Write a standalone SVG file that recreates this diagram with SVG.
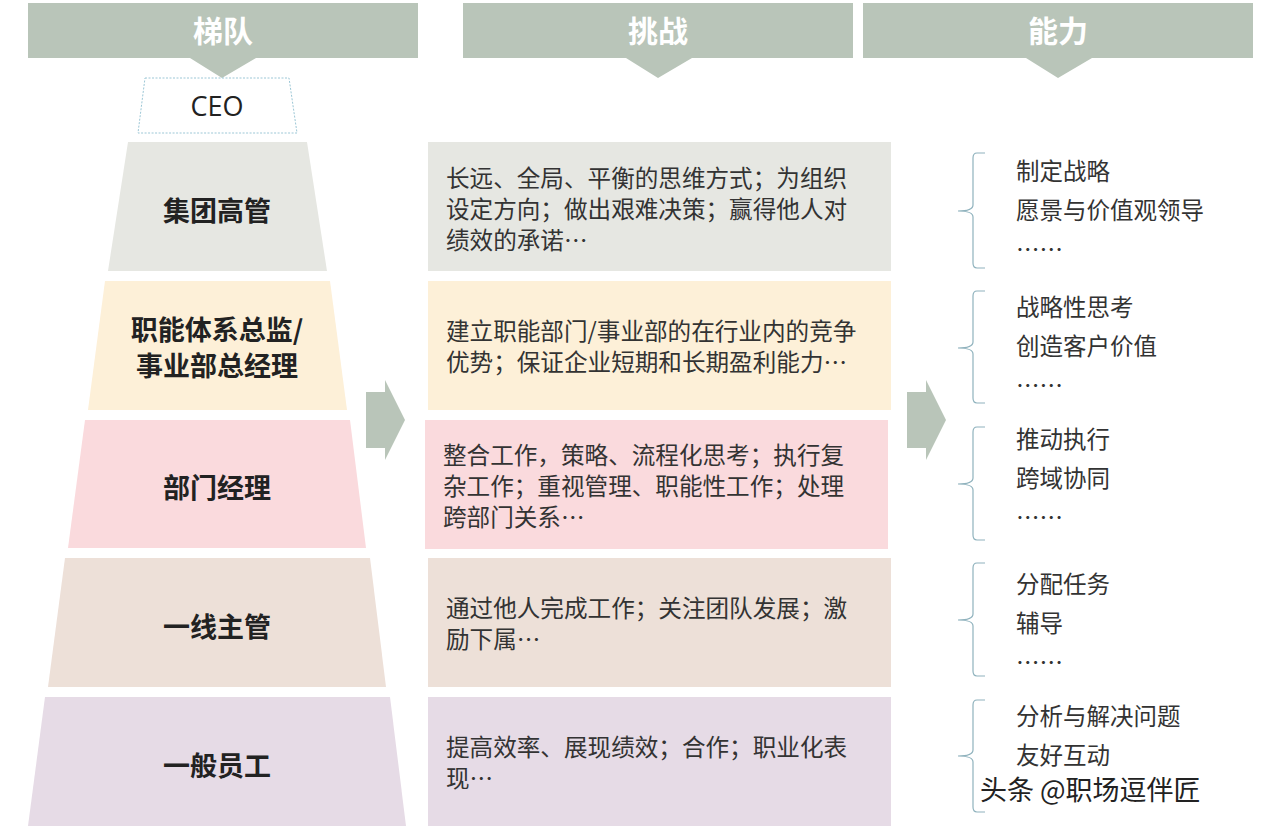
<svg xmlns="http://www.w3.org/2000/svg" width="1269" height="829" viewBox="0 0 1269 829">
<style>
.hd{fill:#b9c5b9}
.ht{font-family:"Noto Sans CJK SC",sans-serif;font-weight:bold;font-size:30px;fill:#fff;text-anchor:middle}
.tl{font-family:"Noto Sans CJK SC",sans-serif;font-weight:bold;font-size:27px;fill:#222;text-anchor:middle}
.ct{font-family:"Noto Sans CJK SC",sans-serif;font-size:23.6px;fill:#333}
.ab{font-family:"Noto Sans CJK SC",sans-serif;font-size:23.5px;fill:#333}
.br{fill:none;stroke:#8fb2bd;stroke-width:1.2}
</style>
<rect width="1269" height="829" fill="#fff"/>
<g id="headers">
<path class="hd" d="M28 3H418V58H256L222 78L190 58H28Z"/>
<text class="ht" x="223" y="42">梯队</text>
<path class="hd" d="M463 3H853V58H692L658 78L626 58H463Z"/>
<text class="ht" x="658" y="42">挑战</text>
<path class="hd" d="M863 3H1253V58H1092L1058 78L1026 58H863Z"/>
<text class="ht" x="1058" y="42">能力</text>
</g>
<g id="ceo">
<path d="M145 78H289L297 133H138Z" fill="#fff" stroke="#9cc7d6" stroke-dasharray="2,1.5"/>
<text x="217" y="116" font-family="Open Sans,sans-serif" font-size="27" fill="#222" text-anchor="middle">CEO</text>
</g>
<g id="tier1"><path d="M128 142H307L327 271H108Z" fill="#e6e7e2"/><text class="tl" x="217" y="221">集团高管</text></g>
<g id="tier2"><path d="M105 281H330L347 410H88Z" fill="#fdf0d8"/><text class="tl" x="217" y="340">职能体系总监/</text><text class="tl" x="217" y="376">事业部总经理</text></g>
<g id="tier3"><path d="M85 420H350L366 548H68Z" fill="#fadadd"/><text class="tl" x="217" y="498">部门经理</text></g>
<g id="tier4"><path d="M65 558H370L386 687H48Z" fill="#ede0d8"/><text class="tl" x="217" y="637">一线主管</text></g>
<g id="tier5"><path d="M45 697H390L406 826H28Z" fill="#e6dbe6"/><text class="tl" x="217" y="776">一般员工</text></g>
<g id="ch1"><rect x="428" y="142" width="463" height="129" fill="#e6e7e2"/>
<text class="ct"><tspan x="446" y="187">长远、全局、平衡的思维方式；为组织</tspan><tspan x="446" y="218">设定方向；做出艰难决策；赢得他人对</tspan><tspan x="446" y="249">绩效的承诺…</tspan></text></g>
<g id="ch2"><rect x="428" y="281" width="463" height="129" fill="#fdf0d8"/>
<text class="ct"><tspan x="446" y="340">建立职能部门/事业部的在行业内的竞争</tspan><tspan x="446" y="371">优势；保证企业短期和长期盈利能力…</tspan></text></g>
<g id="ch3"><rect x="425" y="420" width="463" height="129" fill="#fadadd"/>
<text class="ct"><tspan x="443" y="464">整合工作，策略、流程化思考；执行复</tspan><tspan x="443" y="495">杂工作；重视管理、职能性工作；处理</tspan><tspan x="443" y="526">跨部门关系…</tspan></text></g>
<g id="ch4"><rect x="428" y="558" width="463" height="129" fill="#ede0d8"/>
<text class="ct"><tspan x="446" y="617">通过他人完成工作；关注团队发展；激</tspan><tspan x="446" y="648">励下属…</tspan></text></g>
<g id="ch5"><rect x="428" y="697" width="463" height="129" fill="#e6dbe6"/>
<text class="ct"><tspan x="446" y="756">提高效率、展现绩效；合作；职业化表</tspan><tspan x="446" y="787">现…</tspan></text></g>
<g id="connectors">
<path class="hd" d="M366 392H385V380L405 420L385 460V448H366Z"/>
<path class="hd" d="M907 392H926V380L946 420L926 460V448H907Z"/>
<path class="br" d="M985 153H977Q973 153 973 158V205Q973 211 958 211Q973 211 973 217V263Q973 268 977 268H985"/>
<path class="br" d="M985 291H977Q973 291 973 296V342Q973 348 958 348Q973 348 973 354V398Q973 403 977 403H985"/>
<path class="br" d="M985 427H977Q973 427 973 432V478Q973 484 958 484Q973 484 973 490V535Q973 540 977 540H985"/>
<path class="br" d="M985 563H977Q973 563 973 568V614Q973 620 958 620Q973 620 973 626V671Q973 676 977 676H985"/>
<path class="br" d="M985 700H977Q973 700 973 705V750Q973 756 958 756Q973 756 973 762V807Q973 812 977 812H985"/>
</g>
<g id="ab1"><text class="ab" x="1016" y="180">制定战略</text><text class="ab" x="1016" y="219">愿景与价值观领导</text><text class="ab" x="1016" y="258">……</text></g>
<g id="ab2"><text class="ab" x="1016" y="316">战略性思考</text><text class="ab" x="1016" y="355">创造客户价值</text><text class="ab" x="1016" y="394">……</text></g>
<g id="ab3"><text class="ab" x="1016" y="448">推动执行</text><text class="ab" x="1016" y="487">跨域协同</text><text class="ab" x="1016" y="526">……</text></g>
<g id="ab4"><text class="ab" x="1016" y="593">分配任务</text><text class="ab" x="1016" y="632">辅导</text><text class="ab" x="1016" y="671">……</text></g>
<g id="ab5"><text class="ab" x="1016" y="725">分析与解决问题</text><text class="ab" x="1016" y="764">友好互动</text></g>
<text x="980" y="800" font-family="Noto Sans CJK SC,sans-serif" font-size="27" fill="#222" stroke="#fff" stroke-width="3" paint-order="stroke">头条 @职场逗伴匠</text>
</svg>
